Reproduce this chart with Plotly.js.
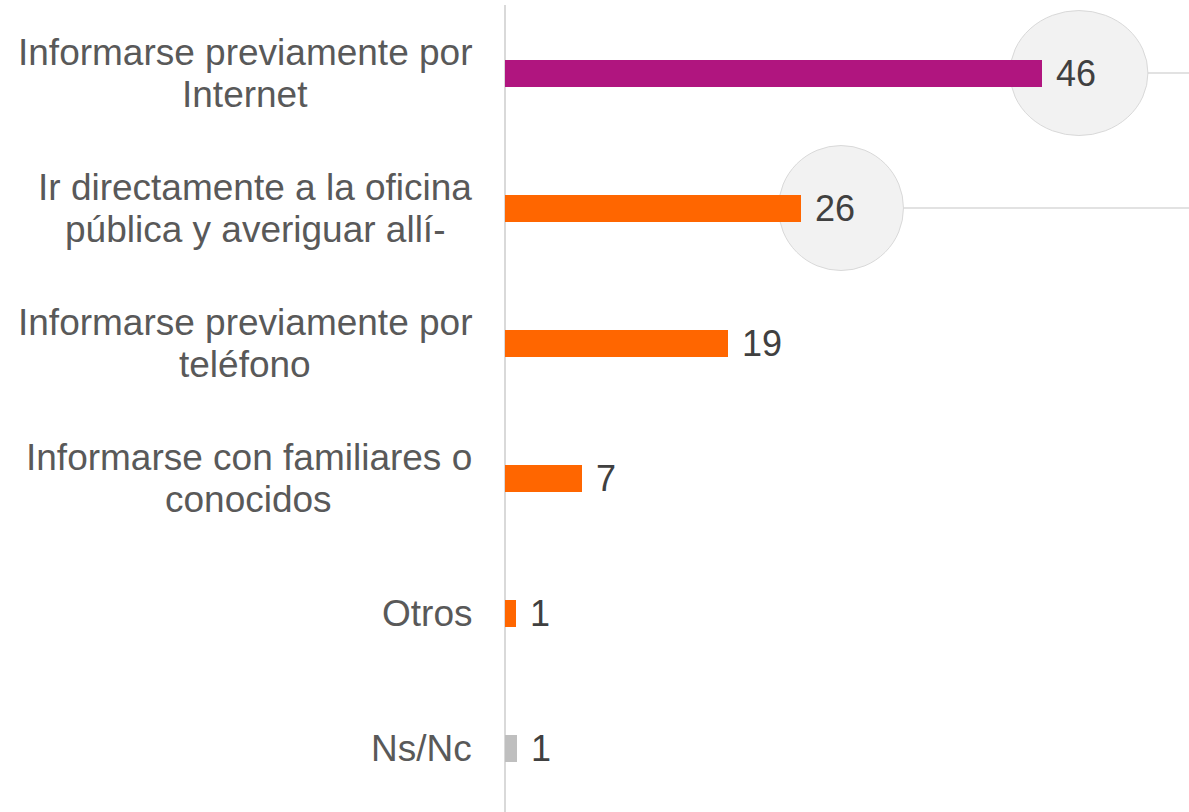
<!DOCTYPE html>
<html>
<head>
<meta charset="utf-8">
<script src="https://cdn.plot.ly/plotly-3.0.1.min.js"></script>
<style>
  html, body { margin: 0; padding: 0; background: #ffffff; }
  #chart { width: 1189px; height: 812px; }
</style>
</head>
<body>
<div id="chart"></div>
<script>
// Chart data
var categories = [
    "Informarse previamente por<br>Internet",
    "Ir directamente a la oficina<br>pública y averiguar allí-",
    "Informarse previamente por<br>teléfono",
    "Informarse con familiares o<br>conocidos",
    "Otros",
    "Ns/Nc"
];
var values = [46, 25.4, 19.1, 6.6, 0.9, 1.0];
var valueLabels = ["46", "26", "19", "7", "1", "1"];
var highlighted = [0, 1]; // rows that get the bubble behind the number

var FONT = '"Liberation Sans", Arial, sans-serif';
var LABEL_SIZE = 37;
var X_MAX = 58.6;
var LINE_GAP = 42;   // px between the two lines of a category label
var LABEL_PAD = 33;  // px from the axis line to the right edge of the labels

// bubble geometry in pixels: [centre offset from bar end, half width, half height]
var bubbleGeom = [[37, 69, 62.5], [39.5, 62.5, 62.5]];

function barColor(i) {
    if (i === 0) return "#B0157F";
    if (i === categories.length - 1) return "#BFBFBF";
    return "#FF6600";
}

// text width, used to centre the label lines on each other
var ctx = document.createElement("canvas").getContext("2d");
ctx.font = LABEL_SIZE + "px " + FONT;
function textWidth(s) {
    return ctx.measureText(s).width;
}

function drawChart() {
    var rows = categories.map(function (c, i) { return i; });

    var barTrace = {
        type: "bar",
        orientation: "h",
        x: values,
        y: rows,
        width: 0.2,
        marker: { color: rows.map(barColor) },
        hoverinfo: "skip",
        showlegend: false
    };

    var annotations = [];
    var shapes = [];

    rows.forEach(function (i) {
        var lines = categories[i].split("<br>");
        var blockW = Math.max.apply(null, lines.map(textWidth));
        lines.forEach(function (txt, k) {
            annotations.push({
                xref: "paper", yref: "y",
                x: 0, y: i,
                xanchor: "center", yanchor: "middle",
                xshift: -LABEL_PAD - blockW / 2,
                yshift: -(k - (lines.length - 1) / 2) * LINE_GAP,
                showarrow: false,
                text: txt,
                font: { family: FONT, size: LABEL_SIZE, color: "#595959" }
            });
        });
        annotations.push({
            xref: "x", yref: "y",
            x: values[i], y: i,
            xanchor: "left", yanchor: "middle",
            xshift: 12,
            showarrow: false,
            text: valueLabels[i],
            font: { family: FONT, size: 36, color: "#404040" }
        });
    });

    highlighted.forEach(function (i, n) {
        var g = bubbleGeom[n];
        shapes.push({
            type: "line", layer: "below",
            xref: "x", yref: "y",
            x0: values[i], x1: X_MAX, y0: i, y1: i,
            line: { color: "#D9D9D9", width: 1.5 }
        });
        shapes.push({
            type: "circle", layer: "below",
            xref: "x", yref: "y",
            xsizemode: "pixel", ysizemode: "pixel",
            xanchor: values[i], yanchor: i,
            x0: g[0] - g[1], x1: g[0] + g[1],
            y0: -g[2], y1: g[2],
            fillcolor: "#F2F2F2",
            line: { color: "#D9D9D9", width: 1 }
        });
    });

    var layout = {
        width: 1189,
        height: 812,
        margin: { l: 505, r: 0, t: 5, b: 0, pad: 0 },
        paper_bgcolor: "#ffffff",
        plot_bgcolor: "#ffffff",
        bargap: 0,
        xaxis: {
            range: [0, X_MAX],
            showgrid: false,
            zeroline: true,
            zerolinecolor: "#D9D9D9",
            zerolinewidth: 2,
            showticklabels: false,
            ticks: "",
            fixedrange: true
        },
        yaxis: {
            range: [5.474, -0.504],
            showgrid: false,
            zeroline: false,
            showticklabels: false,
            ticks: "",
            fixedrange: true
        },
        annotations: annotations,
        shapes: shapes
    };

    Plotly.newPlot("chart", [barTrace], layout, { displayModeBar: false, staticPlot: true });
}

drawChart();
</script>
</body>
</html>
